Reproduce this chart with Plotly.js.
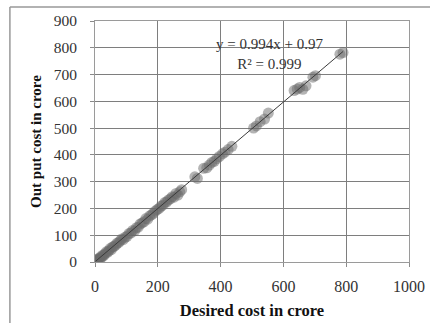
<!DOCTYPE html>
<html>
<head>
<meta charset="utf-8">
<script src="https://cdn.plot.ly/plotly-3.0.1.min.js"></script>
<style>html,body{margin:0;padding:0;background:#fff;}#chart{width:430px;height:323px;}</style>
</head>
<body>
<div id="chart"></div>
<script>
const desiredCost = [2,4,6,8,10,13,16,19,22,25,28,32,36,40,44,48,52,56,60,65,70,75,80,85,90,96,102,108,114,120,126,132,138,144,150,156,162,168,174,180,186,192,198,204,210,216,222,228,234,240,246,252,258,264,270,276,
  318,326,346,356,364,372,380,388,396,406,414,424,436,505,514,526,540,552,634,644,652,662,672,694,702,780,790];
const outputCost = [0,6,2,10,8,14,12,20,18,26,24,30,38,36,42,50,46,56,58,62,70,72,78,86,84,92,96,106,108,118,116,128,130,142,146,150,162,160,172,176,182,190,196,200,208,212,222,224,232,236,244,242,256,250,262,270,
  318,312,350,352,362,372,376,386,394,404,410,420,432,500,508,524,534,556,640,646,652,645,658,690,696,776,782];
const slope = 0.994;
const intercept = 0.97;
const equationText = 'y = 0.994x + 0.97';
const rSquaredText = 'R² = 0.999';
const xTicks = [0,200,400,600,800,1000];
const yTicks = [0,100,200,300,400,500,600,700,800,900];

const xMin = Math.min(...desiredCost), xMax = Math.max(...desiredCost);
const trendX = [xMin, xMax];
const trendY = trendX.map(v => slope*v + intercept);

const serif = 'Liberation Serif, Times New Roman, serif';
const data = [
  {x: desiredCost, y: outputCost, type: 'scatter', mode: 'markers',
   marker: {size: 11, color: 'rgba(105,105,105,0.5)', line: {width: 0}}, hoverinfo: 'none'},
  {x: trendX, y: trendY, type: 'scatter', mode: 'lines',
   line: {color: '#3a3a3a', width: 1}, hoverinfo: 'none'}
];
const layout = {
  width: 430, height: 323,
  margin: {l: 95, r: 21, t: 21, b: 61},
  paper_bgcolor: '#fff', plot_bgcolor: '#fff',
  showlegend: false,
  font: {family: serif, size: 15, color: '#333'},
  xaxis: {range: [0,1000], tickvals: xTicks, ticktext: xTicks.map(String),
    showgrid: true, gridcolor: '#7e7e7e', gridwidth: 1, zeroline: false,
    showline: true, linecolor: '#9a9a9a', linewidth: 1, mirror: true,
    ticks: 'outside', ticklen: 4, tickcolor: '#8a8a8a', ticklabelstandoff: 6,
    tickfont: {family: serif, size: 16, color: '#333'},
    title: {text: '<b>Desired cost in crore</b>', font: {family: serif, size: 16.5, color: '#111'}, standoff: 10}},
  yaxis: {range: [0,900], tickvals: yTicks, ticktext: yTicks.map(String),
    showgrid: true, gridcolor: '#7e7e7e', gridwidth: 1, zeroline: false,
    showline: true, linecolor: '#9a9a9a', linewidth: 1, mirror: true,
    ticks: 'outside', ticklen: 4, tickcolor: '#8a8a8a', ticklabelstandoff: 10,
    tickfont: {family: serif, size: 15.5, color: '#333'},
    title: {text: '<b>Out put cost in crore</b>', font: {family: serif, size: 15, color: '#111'}, standoff: 8}},
  annotations: [
    {xref: 'paper', yref: 'paper', x: 0.555, y: 0.862, text: equationText + '<br>' + rSquaredText, showarrow: false,
     align: 'center', font: {family: serif, size: 15, color: '#333'}, xanchor: 'center', yanchor: 'middle'}
  ],
  shapes: [
    {type: 'line', xref: 'paper', yref: 'paper', x0: -0.271, x1: 1.1, y0: 1.058, y1: 1.058, line: {color: '#999', width: 1.5}},
    {type: 'line', xref: 'paper', yref: 'paper', x0: -0.271, x1: -0.271, y0: 1.058, y1: -0.3, line: {color: '#999', width: 1.5}}
  ]
};
Plotly.newPlot('chart', data, layout, {displayModeBar: false, staticPlot: true});
</script>
</body>
</html>
